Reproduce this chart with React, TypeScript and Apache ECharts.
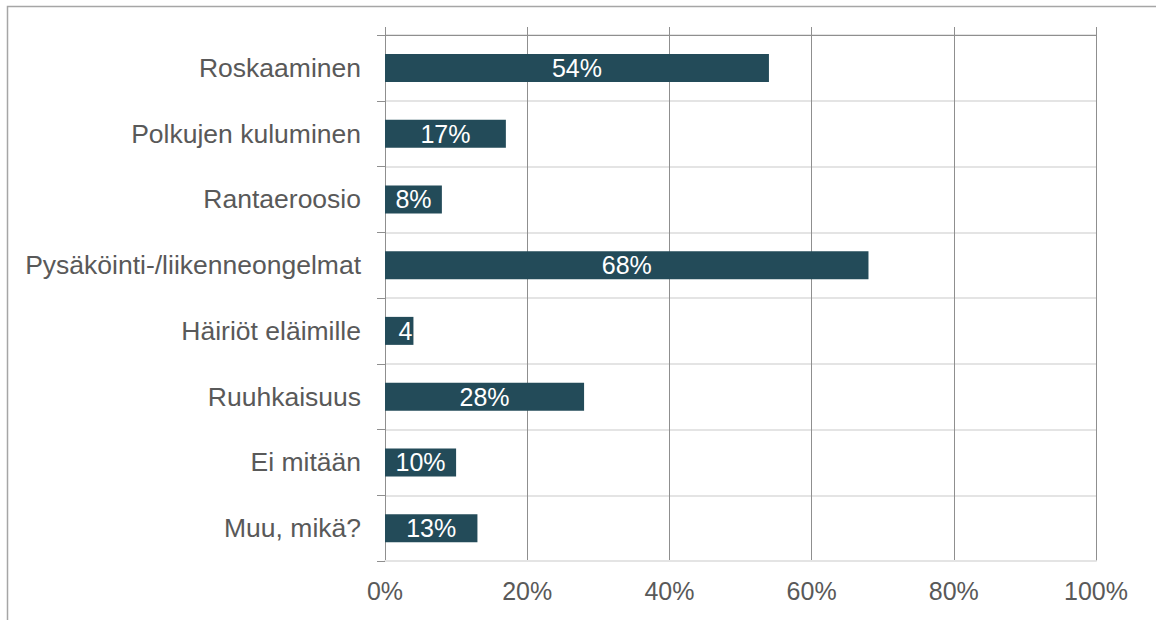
import React, { useEffect, useRef } from "react";
import * as echarts from "echarts";

const categories = [
  "Roskaaminen",
  "Polkujen kuluminen",
  "Rantaeroosio",
  "Pysäköinti-/liikenneongelmat",
  "Häiriöt eläimille",
  "Ruuhkaisuus",
  "Ei mitään",
  "Muu, mikä?",
];
const values = [54, 17, 8, 68, 4, 28, 10, 13];
const barLabels = ["54%", "17%", "8%", "68%", "4", "28%", "10%", "13%"];
const xTicks = [0, 20, 40, 60, 80, 100];

const FONT = "'Liberation Sans', Arial, sans-serif";
const TEXT = "#595959";
const DARK = "#8f8f8f";
const LIGHT = "#e4e4e4";
const BAR = "#234b59";

export default function App() {
  const ref = useRef<HTMLDivElement>(null);
  useEffect(() => {
    if (!ref.current) return;
    const chart = echarts.init(ref.current, null, { renderer: "svg" });
    chart.setOption({
      animation: false,
      backgroundColor: "#ffffff",
      textStyle: { fontFamily: FONT },
      graphic: [
        {
          type: "rect",
          shape: { x: 7.5, y: 6.5, width: 1300, height: 800 },
          style: { fill: "none", stroke: "#a6a6a6", lineWidth: 1.5 },
          silent: true,
          z: 0,
        },
      ],
      grid: { left: 385, right: 60, top: 35, bottom: 59, containLabel: false },
      xAxis: [
        {
          type: "value",
          min: xTicks[0],
          max: xTicks[xTicks.length - 1],
          interval: 20,
          position: "bottom",
          axisLine: { show: true, lineStyle: { color: LIGHT, width: 2 } },
          axisTick: { show: false },
          splitLine: { show: true, lineStyle: { color: DARK, width: 1 } },
          axisLabel: {
            color: TEXT,
            fontSize: 25,
            fontFamily: FONT,
            margin: 17,
            formatter: (v: number) => v + "%",
          },
        },
        {
          type: "value",
          min: xTicks[0],
          max: xTicks[xTicks.length - 1],
          interval: 20,
          position: "top",
          axisLine: { show: true, lineStyle: { color: DARK, width: 1 } },
          axisTick: { show: true, inside: false, length: 8, lineStyle: { color: DARK, width: 1 } },
          splitLine: { show: false },
          axisLabel: { show: false },
        },
      ],
      yAxis: {
        type: "category",
        data: categories,
        inverse: true,
        axisLine: { show: true, lineStyle: { color: DARK, width: 1 } },
        axisTick: { show: true, length: 8, lineStyle: { color: DARK, width: 1 } },
        splitLine: { show: true, lineStyle: { color: LIGHT, width: 2 } },
        axisLabel: {
          color: TEXT,
          fontSize: 26.5,
          fontFamily: FONT,
          margin: 24,
        },
      },
      series: [
        {
          type: "bar",
          data: values.map((v, i) => ({
            value: v,
            label:
              barLabels[i] === "4"
                ? { position: "insideRight", distance: 1 }
                : undefined,
          })),
          barWidth: 28,
          itemStyle: { color: BAR },
          label: {
            show: true,
            position: "inside",
            color: "#ffffff",
            fontSize: 25,
            fontFamily: FONT,
            formatter: (p: any) => barLabels[p.dataIndex],
          },
          z: 3,
        },
      ],
    });
    return () => chart.dispose();
  }, []);
  return (
    <div
      ref={ref}
      style={{ position: "fixed", left: 0, top: 0, width: 1156, height: 620 }}
    />
  );
}
